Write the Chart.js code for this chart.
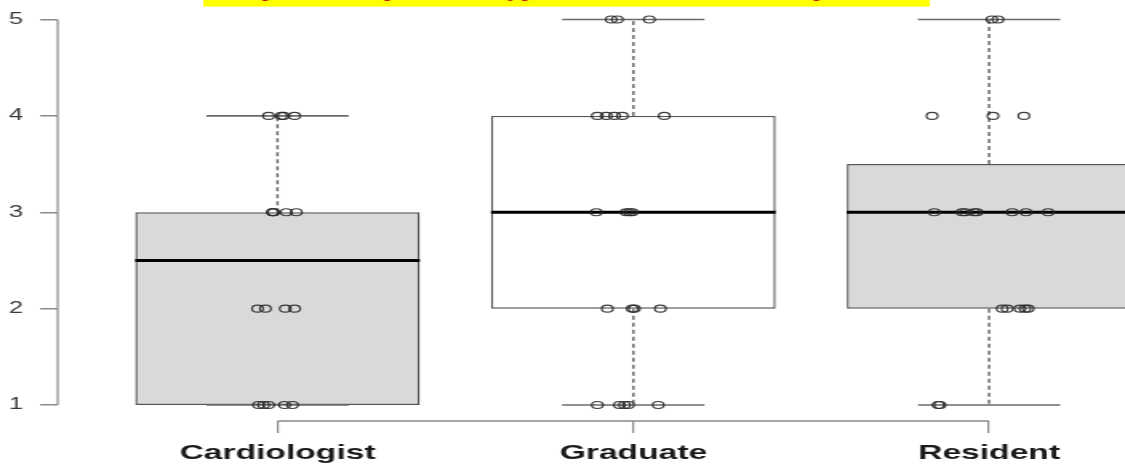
<!DOCTYPE html>
<html>
<head>
<meta charset="utf-8">
<script src="https://cdn.jsdelivr.net/npm/chart.js@4.4.1/dist/chart.umd.min.js"></script>
<style>
  html, body { margin: 0; padding: 0; background: #ffffff; overflow: hidden; }
  #wrap { width: 1125px; height: 466px; overflow: hidden; position: relative; }
  #c { position: absolute; left: 0; top: -24px; }
</style>
</head>
<body>
<div id="wrap">
  <!-- the figure is drawn narrow and widened by CSS; the caption sits mostly above the frame -->
  <canvas id="c" width="703" height="490" style="width:1125px;height:490px;"></canvas>
</div>
<script>
// ---- data -------------------------------------------------------------
const titleText = 'Box plot of the perceived typical features of the heart parameter';
const categories = ['Cardiologist', 'Graduate', 'Resident'];
const yTicks = [1, 2, 3, 4, 5];

// five-number summaries per group
const lowerQuartile = [1, 2, 2];
const upperQuartile = [3, 4, 3.5];
const medians = [2.5, 3, 3];
const whiskerLow = [1, 1, 1];
const whiskerHigh = [4, 5, 5];

// individual ratings and their horizontal jitter (in category units)
const cardiologistScores = [4, 4, 4, 4, 3, 3, 3, 3, 3, 2, 2, 2, 2, 1, 1, 1, 1, 1];
const cardiologistJitter = [-0.025, 0.011, 0.017, 0.048, -0.014, -0.013, -0.011, 0.025, 0.053,
                            -0.056, -0.034, 0.022, 0.048, -0.053, -0.039, -0.025, 0.020, 0.042];
const graduateScores = [5, 5, 5, 4, 4, 4, 4, 4, 3, 3, 3, 3, 2, 2, 2, 2, 1, 1, 1, 1, 1];
const graduateJitter = [-0.062, -0.045, 0.045, -0.101, -0.076, -0.053, -0.031, 0.087,
                        -0.104, -0.020, -0.011, -0.003, -0.073, -0.003, 0.003, 0.076,
                        -0.101, -0.039, -0.025, -0.014, 0.070];
const residentScores = [5, 5, 4, 4, 4, 3, 3, 3, 3, 3, 3, 3, 3, 2, 2, 2, 2, 2, 1, 1];
const residentJitter = [0.008, 0.025, -0.160, 0.011, 0.098, -0.154, -0.076, -0.067, -0.042,
                        -0.034, 0.065, 0.104, 0.166, 0.037, 0.051, 0.087, 0.101, 0.110,
                        -0.143, -0.138];

// ---- build datasets -----------------------------------------------------
const BOX_HALF = 0.4;   // box half-width in category units
const CAP_HALF = 0.2;   // whisker cap half-width

const groups = [
  { scores: cardiologistScores, jitter: cardiologistJitter },
  { scores: graduateScores, jitter: graduateJitter },
  { scores: residentScores, jitter: residentJitter }
];

const datasets = [];

datasets.push({
  type: 'bar',
  order: 5,
  data: categories.map((c, i) => ({ x: i + 1, y: [lowerQuartile[i], upperQuartile[i]] })),
  backgroundColor: ['#d9d9d9', '#ffffff', '#d9d9d9'],
  borderColor: '#555555',
  borderWidth: 1.4,
  borderSkipped: false,
  categoryPercentage: 0.8,
  barPercentage: 1.0
});

const segment = (pts, extra) => Object.assign({
  type: 'line',
  data: pts,
  pointRadius: 0,
  pointHoverRadius: 0,
  tension: 0,
  fill: false
}, extra);

categories.forEach((c, i) => {
  const cx = i + 1;
  // dashed whiskers
  if (whiskerHigh[i] > upperQuartile[i]) {
    datasets.push(segment([{ x: cx, y: upperQuartile[i] }, { x: cx, y: whiskerHigh[i] }],
      { order: 4, borderColor: '#6a6a6a', borderWidth: 1.5, borderDash: [4, 3] }));
  }
  if (whiskerLow[i] < lowerQuartile[i]) {
    datasets.push(segment([{ x: cx, y: lowerQuartile[i] }, { x: cx, y: whiskerLow[i] }],
      { order: 4, borderColor: '#6a6a6a', borderWidth: 1.5, borderDash: [4, 3] }));
  }
  // whisker caps
  [whiskerLow[i], whiskerHigh[i]].forEach(v => {
    datasets.push(segment([{ x: cx - CAP_HALF, y: v }, { x: cx + CAP_HALF, y: v }],
      { order: 3, borderColor: '#6a6a6a', borderWidth: 1.6 }));
  });
  // median
  datasets.push(segment([{ x: cx - BOX_HALF, y: medians[i] }, { x: cx + BOX_HALF, y: medians[i] }],
    { order: 2, borderColor: '#000000', borderWidth: 3 }));
});

const points = [];
groups.forEach((g, i) => {
  g.scores.forEach((v, k) => points.push({ x: i + 1 + g.jitter[k], y: v }));
});
datasets.push({
  type: 'scatter',
  order: 1,
  data: points,
  pointStyle: 'circle',
  pointRadius: 3.5,
  pointHoverRadius: 3.5,
  pointBorderWidth: 1.2,
  pointBorderColor: 'rgba(40,40,40,0.9)',
  pointBackgroundColor: 'rgba(0,0,0,0)'
});

// ---- plugin: caption highlight and R-style axis lines ------------------------
const titleFont = { family: "'Liberation Serif', 'Times New Roman', serif", size: 17.5 };

const figureDecor = {
  id: 'figureDecor',
  beforeDraw(chart) {
    const t = chart.titleBlock;
    const ctx = chart.ctx;
    ctx.save();
    ctx.font = `${titleFont.size}px ${titleFont.family}`;
    const w = ctx.measureText(titleText).width;
    const cx = (t.left + t.right) / 2;
    ctx.fillStyle = '#ffff00';
    ctx.fillRect(cx - w / 2 - 3, t.top, w + 6, t.bottom - t.top);
    ctx.restore();
  },
  afterDraw(chart) {
    const { ctx, chartArea, scales } = chart;
    const x = scales.x, y = scales.y;
    ctx.save();
    ctx.strokeStyle = '#8a8a8a';
    // y axis spans first to last tick
    ctx.lineWidth = 1.2;
    ctx.beginPath();
    ctx.moveTo(chartArea.left, y.getPixelForValue(yTicks[0]));
    ctx.lineTo(chartArea.left, y.getPixelForValue(yTicks[yTicks.length - 1]));
    ctx.stroke();
    // x axis spans first to last category
    ctx.lineWidth = 1.6;
    ctx.beginPath();
    ctx.moveTo(x.getPixelForValue(1), chartArea.bottom);
    ctx.lineTo(x.getPixelForValue(categories.length), chartArea.bottom);
    ctx.stroke();
    ctx.restore();
  }
};

new Chart(document.getElementById('c'), {
  type: 'bar',
  data: { datasets },
  plugins: [figureDecor],
  options: {
    responsive: false,
    devicePixelRatio: 1,
    animation: false,
    events: [],
    layout: { autoPadding: false, padding: { top: 0, right: 0, bottom: 0, left: 5 } },
    plugins: {
      legend: { display: false },
      tooltip: { enabled: false },
      title: {
        display: true,
        text: titleText,
        color: '#c00000',
        font: { family: titleFont.family, size: titleFont.size, weight: 'normal' },
        padding: { top: 6, bottom: 3.6 }
      }
    },
    scales: {
      x: {
        type: 'linear',
        min: 0.382,
        max: 3.382,
        offset: false,
        afterBuildTicks: axis => { axis.ticks = categories.map((c, i) => ({ value: i + 1 })); },
        afterFit: axis => {
          axis.height = 45;
          axis.paddingLeft = 0;
          axis.paddingRight = 0;
        },
        border: { display: false },
        grid: {
          offset: false,
          drawOnChartArea: false,
          drawTicks: true,
          tickLength: 12,
          color: '#8a8a8a',
          lineWidth: 1.2
        },
        ticks: {
          autoSkip: false,
          maxRotation: 0,
          padding: 8,
          color: '#1a1a1a',
          font: { family: "'Liberation Sans', Arial, sans-serif", size: 21, weight: 'bold' },
          callback: v => categories[Math.round(v) - 1]
        }
      },
      y: {
        type: 'linear',
        min: 0.834,
        max: 5.134,
        afterBuildTicks: axis => { axis.ticks = yTicks.map(v => ({ value: v })); },
        afterFit: axis => {
          axis.width = 31;
          axis.paddingTop = 0;
          axis.paddingBottom = 0;
        },
        border: { display: false },
        grid: {
          drawOnChartArea: false,
          drawTicks: true,
          tickLength: 11,
          color: '#8a8a8a',
          lineWidth: 1.5
        },
        ticks: {
          padding: 10.5,
          color: '#3a3a3a',
          font: { family: "'Liberation Sans', Arial, sans-serif", size: 16 },
          callback: v => String(v)
        }
      }
    }
  }
});
</script>
</body>
</html>
